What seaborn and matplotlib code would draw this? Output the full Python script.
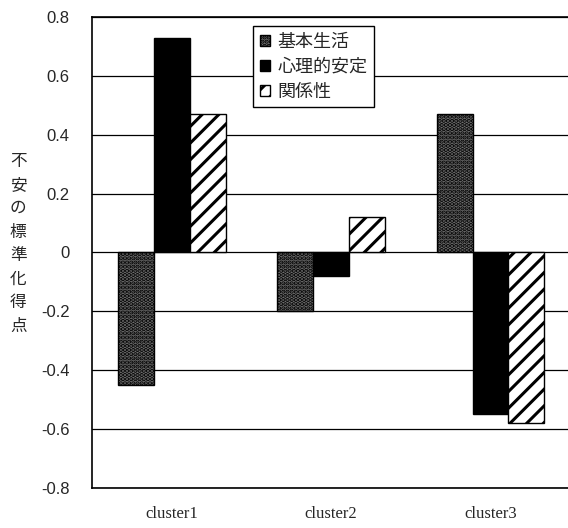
import pandas as pd
import seaborn as sns
import matplotlib.pyplot as plt

# Values
clusters = ['cluster1', 'cluster2', 'cluster3']
series = ['基本生活', '心理的安定', '関係性']
basic_life = [-0.45, -0.20, 0.47]
mental_stability = [0.73, -0.08, -0.55]
relationship = [0.47, 0.12, -0.58]
y_ticks = [-0.8, -0.6, -0.4, -0.2, 0, 0.2, 0.4, 0.6, 0.8]
y_tick_labels = ['-0.8', '-0.6', '-0.4', '-0.2', '0', '0.2', '0.4', '0.6', '0.8']

df = pd.DataFrame({
    'cluster': clusters * 3,
    'series': [s for s in series for _ in clusters],
    'score': basic_life + mental_stability + relationship,
})

sns.set_style('white')
plt.rcParams['font.family'] = ['Noto Sans CJK JP', 'DejaVu Sans']
plt.rcParams['hatch.linewidth'] = 2.2

fig = plt.figure(figsize=(5.68, 5.28), dpi=100)
ax = fig.add_axes([0.162, 0.076, 0.842, 0.892])

colors = ['#6f6f6f', '#000000', '#ffffff']
hatches = ['....', '', '//']
sns.barplot(data=df, x='cluster', y='score', hue='series', hue_order=series,
            order=clusters, palette=colors, width=0.675, edgecolor='black',
            linewidth=1.0, saturation=1, ax=ax)

# Apply fill patterns to each series
for container, hatch in zip(ax.containers, hatches):
    for bar in container:
        bar.set_hatch(hatch)

ax.set_ylim(-0.8, 0.8)
ax.set_xlim(-0.5, 2.5)
ax.set_yticks(y_ticks)
ax.set_yticklabels(y_tick_labels, family='Liberation Sans', fontsize=12)
ax.tick_params(axis='y', length=0, pad=16)
ax.tick_params(axis='x', length=0, pad=13)
for lbl in ax.get_xticklabels():
    lbl.set_family('Liberation Serif')
    lbl.set_fontsize(12)
ax.yaxis.grid(True, color='black', linewidth=0.9)
ax.set_axisbelow(True)
ax.set_xlabel('')
ax.set_ylabel('')
for side in ['left', 'top', 'bottom']:
    ax.spines[side].set_color('black')
    ax.spines[side].set_linewidth(1.2)
ax.spines['right'].set_visible(False)

# Legend patches following the bar styles
handles, labels = ax.get_legend_handles_labels()
for h, hatch in zip(handles, hatches):
    h.set_hatch(hatch)
leg = ax.legend(handles, labels, loc='upper left', bbox_to_anchor=(0.337, 0.98),
                frameon=True, fancybox=False, edgecolor='black', fontsize=13,
                handlelength=0.6, handleheight=0.6, handletextpad=0.4,
                borderpad=0.35, labelspacing=0.4, borderaxespad=0)
leg.get_frame().set_linewidth(1.0)
leg.get_frame().set_alpha(1)

# Vertical stacked y-axis title
fig.text(0.032, 0.538, '\n'.join('不安の標準化得点'), ha='center', va='center',
         fontsize=12, linespacing=1.5)

fig.savefig('out.png', dpi=100)
